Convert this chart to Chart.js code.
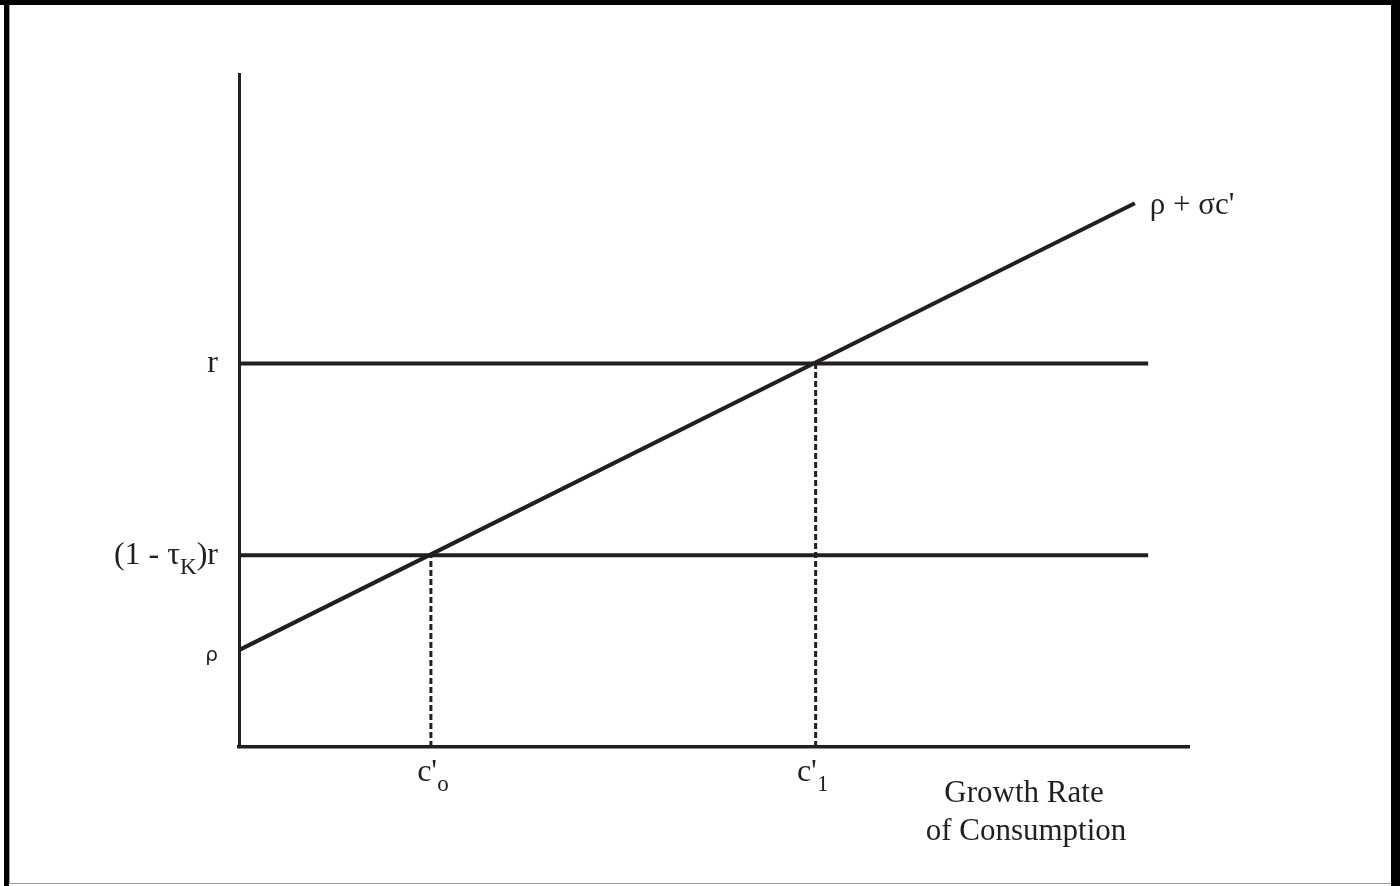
<!DOCTYPE html>
<html>
<head>
<meta charset="utf-8">
<script src="https://cdn.jsdelivr.net/npm/chart.js@4/dist/chart.umd.min.js"></script>
<style>
  html, body { margin: 0; padding: 0; background: #fff; }
  #wrap { position: relative; width: 1400px; height: 886px; overflow: hidden; }
  #chart { position: absolute; left: 0; top: 0; }
  .edge { position: absolute; background: #000; }
</style>
</head>
<body>
<div id="wrap">
  <canvas id="chart" width="1400" height="886"></canvas>
  <div class="edge" style="left:0;top:0;width:1400px;height:5px;"></div>
  <div class="edge" style="left:4px;top:0;width:5px;height:886px;"></div>
  <div class="edge" style="left:9px;top:5px;width:1px;height:878px;background:#999;"></div>
  <div class="edge" style="left:1391px;top:0;width:9px;height:886px;"></div>
  <div class="edge" style="left:9px;top:883px;width:1382px;height:1px;background:#999;"></div>
</div>
<script>
// axis range (arbitrary units)
const xRange = [0, 100];
const yRange = [0, 100];

// levels
const rLevel = 57;          // r
const taxedLevel = 28.5;    // (1 - tau_K) r
const rho = 14.4;           // intercept of the Euler line
const eulerSlope = 0.704;   // sigma

// x positions
const lineEndX = 95.7;      // where the horizontal lines stop
const eulerEndX = 94.3;     // where the rising line stops
const cZero = 20.2;         // c'_o
const cOne = 60.7;          // c'_1

const ink = '#231f20';
const serif = '"Liberation Serif", "Times New Roman", serif';

const eulerLine = [
    { x: 0, y: rho },
    { x: eulerEndX, y: rho + eulerSlope * eulerEndX }
];

// draws a run of text pieces, some of them subscripts
function drawPieces(ctx, pieces, x, y, align, size) {
    let total = 0;
    pieces.forEach(p => {
        ctx.font = (p.sub ? size * 0.72 : size) + 'px ' + (p.font || serif);
        p.w = ctx.measureText(p.t).width;
        total += p.w;
    });
    let cx = x;
    if (align === 'right') cx = x - total;
    if (align === 'center') cx = x - total / 2;
    pieces.forEach(p => {
        ctx.font = (p.sub ? size * 0.72 : size) + 'px ' + (p.font || serif);
        ctx.fillText(p.t, cx, y + (p.sub ? size * 0.3 : 0));
        cx += p.w;
    });
}

const labelPlugin = {
    id: 'labels',
    afterDatasetsDraw(chart) {
        const ctx = chart.ctx;
        const xs = chart.scales.x;
        const ys = chart.scales.y;
        const area = chart.chartArea;
        ctx.save();
        ctx.fillStyle = ink;
        ctx.textBaseline = 'alphabetic';
        ctx.textAlign = 'left';

        const labelRight = area.left - 21;
        drawPieces(ctx, [{ t: 'r' }], labelRight, ys.getPixelForValue(rLevel) + 9, 'right', 32);
        drawPieces(ctx, [{ t: '(1 - \u03c4' }, { t: 'K', sub: true }, { t: ')r' }],
            labelRight, ys.getPixelForValue(taxedLevel) + 9, 'right', 32);
        drawPieces(ctx, [{ t: '\u03c1', font: '"DejaVu Sans", sans-serif' }],
            labelRight, ys.getPixelForValue(rho) + 11, 'right', 20);

        const tickBase = area.bottom + 34;
        drawPieces(ctx, [{ t: "c'" }, { t: 'o', sub: true }], xs.getPixelForValue(cZero) + 2, tickBase, 'center', 32);
        drawPieces(ctx, [{ t: "c'" }, { t: '1', sub: true }], xs.getPixelForValue(cOne) - 3, tickBase, 'center', 32);

        ctx.font = '31px ' + serif;
        ctx.textAlign = 'center';
        ctx.fillText('Growth Rate', area.right - 165, area.bottom + 55);
        ctx.fillText('of Consumption', area.right - 163, area.bottom + 93);

        ctx.textAlign = 'left';
        const end = eulerLine[eulerLine.length - 1];
        drawPieces(ctx, [{ t: '\u03c1 + \u03c3c\'' }],
            xs.getPixelForValue(end.x) + 15, ys.getPixelForValue(end.y) + 11, 'left', 31);
        ctx.restore();
    }
};

function flat(level) {
    return [{ x: xRange[0], y: level }, { x: lineEndX, y: level }];
}
function drop(xv, level) {
    return [{ x: xv, y: yRange[0] }, { x: xv, y: level }];
}

new Chart(document.getElementById('chart'), {
    type: 'scatter',
    data: {
        datasets: [
            { data: flat(rLevel), showLine: true, borderColor: ink, borderWidth: 4, pointRadius: 0 },
            { data: flat(taxedLevel), showLine: true, borderColor: ink, borderWidth: 4, pointRadius: 0 },
            { data: eulerLine, showLine: true, borderColor: ink, borderWidth: 4, pointRadius: 0 },
            { data: drop(cZero, taxedLevel), showLine: true, borderColor: ink, borderWidth: 3, borderDash: [6, 3], pointRadius: 0 },
            { data: drop(cOne, rLevel), showLine: true, borderColor: ink, borderWidth: 3, borderDash: [6, 3], pointRadius: 0 }
        ]
    },
    options: {
        responsive: false,
        animation: false,
        layout: { padding: { left: 239, top: 74, right: 211, bottom: 139 } },
        plugins: { legend: { display: false }, tooltip: { enabled: false } },
        scales: {
            x: {
                type: 'linear', min: xRange[0], max: xRange[1],
                ticks: { display: false },
                grid: { display: false, drawTicks: false },
                border: { color: ink, width: 3.5 },
                afterFit(scale) { scale.height = 0; }
            },
            y: {
                type: 'linear', min: yRange[0], max: yRange[1],
                ticks: { display: false },
                grid: { display: false, drawTicks: false },
                border: { color: ink, width: 3 },
                afterFit(scale) { scale.width = 0; }
            }
        }
    },
    plugins: [labelPlugin]
});
</script>
</body>
</html>
